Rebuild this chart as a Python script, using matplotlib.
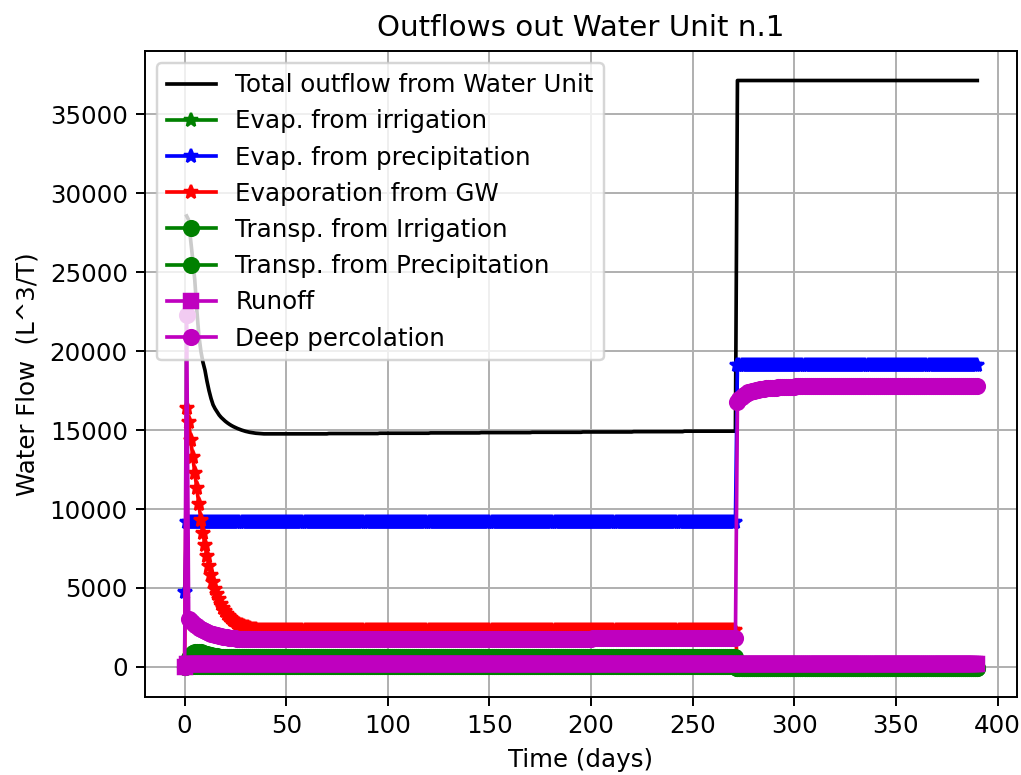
import numpy as np
import matplotlib
matplotlib.use("Agg")
import matplotlib.pyplot as plt

nan = float("nan")

# time axis (days)
time_days = list(range(0, 391))

# Total outflow from Water Unit
total_outflow = ([nan, 28560, 28300, 27000, 25800, 24500, 22600, 21000, 20000, 19300,
                  18800, 18100, 17500, 17000, 16600, 16350, 16150, 15950, 15800, 15680,
                  15560, 15460, 15370, 15290, 15220, 15160, 15100, 15050, 15000, 14960,
                  14920, 14890, 14860, 14840, 14820, 14800, 14790, 14780, 14770, 14760,
                  14760]
                 + [14760] * 30 + [14780] * 25 + [14800] * 25 + [14820] * 25 + [14840] * 25
                 + [14860] * 25 + [14880] * 25 + [14900] * 25 + [14930] * 26
                 + [37140] * 119)

# Evap. from irrigation
evap_irrigation = [0] + [80] * 271 + [-50] * 119

# Evap. from precipitation
evap_precipitation = [4750] + [9200] * 271 + [19150] * 119

# Evaporation from GW
evap_gw = ([0, 16400, 15500, 14400, 13300, 12300, 11300, 10300, 9300, 8500,
            7700, 7000, 6400, 5850, 5350, 4950, 4600, 4300, 4000, 3750,
            3550, 3380, 3230, 3100, 2990, 2890, 2800, 2720, 2650, 2590,
            2540, 2500, 2460, 2430, 2400, 2380, 2360, 2350, 2340, 2330, 2320]
           + [2310] * 231 + [60] * 119)

# Transp. from Irrigation
transp_irrigation = [0] + [80] * 271 + [-50] * 119

# Transp. from Precipitation
transp_precipitation = ([0, 300, 550, 750, 880, 940, 960, 950, 920, 880,
                         840, 800, 770, 740, 710, 690, 670, 650, 640, 630, 620]
                        + [600] * 251 + [-50] * 119)

# Runoff
runoff = [0] + [180] * 271 + [180] * 119

# Deep percolation
deep_percolation = ([0, 22300, 3040, 2900, 2780, 2670, 2570, 2480, 2400, 2330,
                     2270, 2210, 2160, 2110, 2070, 2030, 2000, 1970, 1940, 1910,
                     1890, 1870, 1850, 1830, 1810, 1800, 1790, 1780, 1770, 1760, 1750]
                    + [1740] * 40 + [1760] * 60 + [1780] * 70 + [1800] * 71
                    + [16750, 16950, 17100, 17200, 17300, 17380, 17430, 17470, 17500, 17530,
                       17560, 17580, 17600, 17620, 17640, 17650, 17660, 17670, 17680, 17690,
                       17700, 17705, 17710, 17715, 17720, 17725, 17730, 17735, 17740]
                    + [17760] * 30 + [17790] * 30 + [17820] * 30)

labels = ["Total outflow from Water Unit", "Evap. from irrigation",
          "Evap. from precipitation", "Evaporation from GW",
          "Transp. from Irrigation", "Transp. from Precipitation",
          "Runoff", "Deep percolation"]

DPI = 176
fig = plt.figure(figsize=(1021 / DPI, 775 / DPI), dpi=DPI)
ax = fig.add_axes([0.142, 0.1006, 0.854, 0.8334])

ax.plot(time_days, total_outflow, 'k-', label=labels[0])
ax.plot(time_days, evap_irrigation, 'g*-', label=labels[1])
ax.plot(time_days, evap_precipitation, 'b*-', label=labels[2])
ax.plot(time_days, evap_gw, 'r*-', label=labels[3])
ax.plot(time_days, transp_irrigation, 'go-', label=labels[4])
ax.plot(time_days, transp_precipitation, 'go-', label=labels[5])
ax.plot(time_days, runoff, 'ms-', label=labels[6])
ax.plot(time_days, deep_percolation, 'mo-', label=labels[7])

ax.set_title("Outflows out Water Unit n.1", fontsize=12)
ax.set_xlabel("Time (days)")
ax.set_ylabel("Water Flow  (L^3/T)")
ax.grid(True)
ax.legend(loc='upper left')

fig.savefig("out.png", dpi=DPI)
